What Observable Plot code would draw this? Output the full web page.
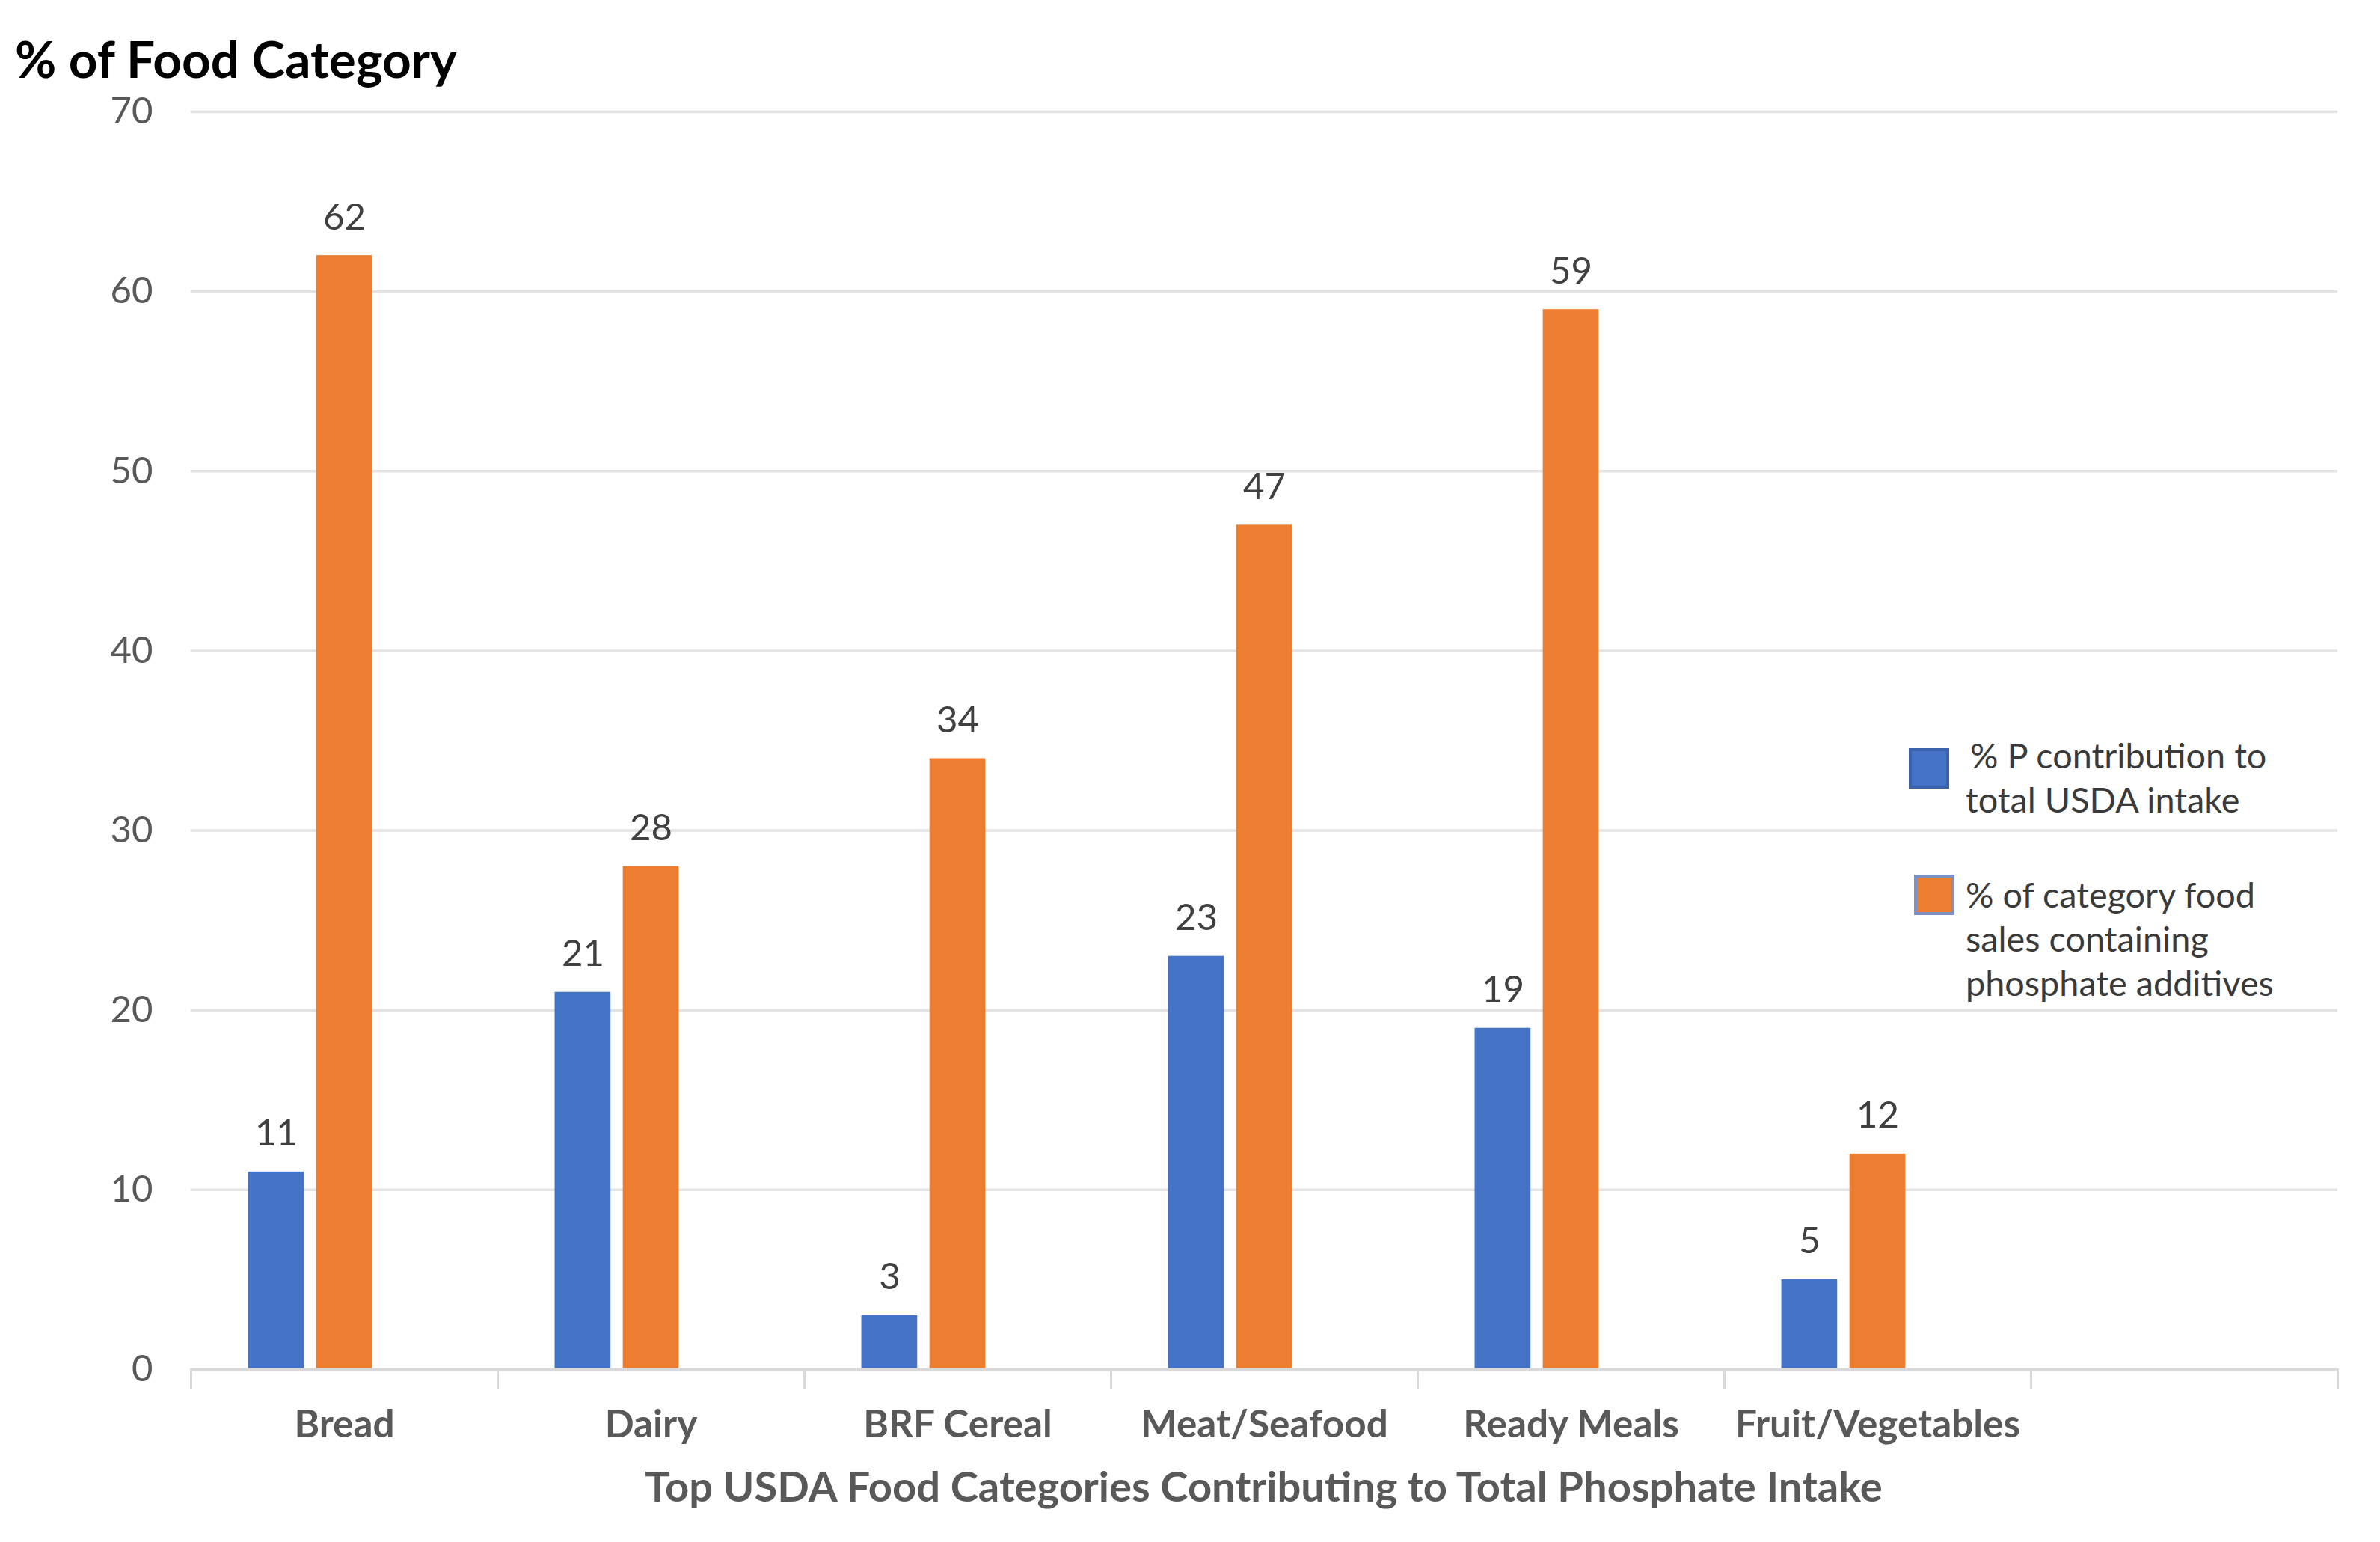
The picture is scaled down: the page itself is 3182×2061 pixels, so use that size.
<!DOCTYPE html>
<html>
<head>
<meta charset="utf-8">
<script src="https://cdn.jsdelivr.net/npm/d3@7"></script>
<script src="https://cdn.jsdelivr.net/npm/@observablehq/plot@0.6"></script>
<style>
  html, body { margin: 0; padding: 0; background: #fff; overflow: hidden; }
  #page { position: relative; width: 3182px; height: 2061px; font-family: Lato, "Open Sans", sans-serif; }
  #title { position: absolute; left: 20px; font-weight: 700; color: #000; white-space: nowrap; }
  #chart { position: absolute; left: 0; top: 120px; }
  #caption { position: absolute; text-align: center; font-weight: 700; color: #595959; white-space: nowrap; }
  .swatch { position: absolute; box-sizing: border-box; width: 54px; height: 54px; }
  .ltext { position: absolute; left: 2628px; width: 430px; color: #3a3a3a; font-weight: 400; }
</style>
</head>
<body>
<div id="page">
  <div id="title"></div>
  <div id="chart"></div>
  <div id="caption"></div>
  <div id="legend"></div>
</div>
<script>
// ---- data ----
const titleText = "% of Food Category";
const xAxisTitle = "Top USDA Food Categories Contributing to Total Phosphate Intake";
const categories = ["Bread", "Dairy", "BRF Cereal", "Meat/Seafood", "Ready Meals", "Fruit/Vegetables", ""];
const seriesNames = ["% P contribution to total USDA intake", "% of category food sales containing phosphate additives", ""];
const pContribution = [11, 21, 3, 23, 19, 5, null];
const additiveShare = [62, 28, 34, 47, 59, 12, null];
const yTicks = [0, 10, 20, 30, 40, 50, 60, 70];
const seriesColors = ["#4472C4", "#ED7D31"];

// ---- rows for Plot ----
const rows = [];
categories.forEach((c, i) => {
  rows.push({category: c, series: seriesNames[0], value: pContribution[i]});
  rows.push({category: c, series: seriesNames[1], value: additiveShare[i]});
});

// ---- font fitting helper ----
const ctx = document.createElement("canvas").getContext("2d");
function fit(text, weight, target) {
  ctx.font = `${weight} 100px Lato`;
  return 100 * target / ctx.measureText(text).width;
}
const fsTitle = fit(titleText, 700, 592);
const fsCaption = fit(xAxisTitle, 700, 1659);
const fsCat = fit("Fruit/Vegetables", 700, 381);
const fsNum = fit("70", 400, 57);
const fsLegend = fit("phosphate additives", 400, 412);

// ---- layout ----
const W = 3182, H = 1840;
const mTop = 29, mBottom = 130, mLeft = 253, mRight = 56;
const innerH = H - mTop - mBottom;

const plot = Plot.plot({
  width: W,
  height: H,
  marginTop: mTop,
  marginBottom: mBottom,
  marginLeft: mLeft,
  marginRight: mRight,
  style: {fontFamily: "Lato, sans-serif", background: "white", overflow: "visible"},
  fx: {domain: categories, padding: 0, label: null, axis: null},
  x: {domain: seriesNames, paddingInner: 0.18, paddingOuter: 0.84, round: false, axis: null},
  y: {domain: [0, 70], axis: null},
  color: {domain: seriesNames.slice(0, 2), range: seriesColors},
  marks: [
    Plot.ruleY(yTicks.filter(v => v > 0), {stroke: "#e3e3e3", strokeWidth: 3.5}),
    Plot.frame({anchor: "left", insetTop: innerH, insetBottom: -24, stroke: "#d9d9d9", strokeWidth: 3}),
    Plot.frame({anchor: "right", insetTop: innerH, insetBottom: -24, stroke: "#d9d9d9", strokeWidth: 3}),
    Plot.barY(rows, {fx: "category", x: "series", y: "value", fill: "series"}),
    Plot.ruleY([0], {stroke: "#d9d9d9", strokeWidth: 4}),
    Plot.text(rows, {
      fx: "category", x: "series", y: "value", text: d => d.value,
      lineAnchor: "bottom", dy: -35, fill: "#404040", fontSize: fsNum
    }),
    Plot.axisY({ticks: yTicks, tickSize: 0, tickPadding: 51, fontSize: fsNum, color: "#595959", fill: "#595959", label: null}),
    Plot.axisFx({anchor: "bottom", tickSize: 0, tickPadding: 90 - 0.71 * fsCat, fontSize: fsCat, fontWeight: "bold", color: "#595959", fill: "#595959", label: null})
  ]
});
document.getElementById("chart").appendChild(plot);

// ---- title & caption ----
const title = document.getElementById("title");
title.textContent = titleText;
title.style.fontSize = fsTitle + "px";
title.style.lineHeight = fsTitle + "px";
title.style.top = (104 - 0.887 * fsTitle) + "px";

const cap = document.getElementById("caption");
cap.textContent = xAxisTitle;
cap.style.left = mLeft + "px";
cap.style.width = (W - mLeft - mRight) + "px";
cap.style.fontSize = fsCaption + "px";
cap.style.lineHeight = fsCaption + "px";
cap.style.top = (2008 - 0.887 * fsCaption) + "px";

// ---- legend (inside plot area, right side) ----
const legend = document.getElementById("legend");
const lh = 59;
const baseOff = (lh - 1.2 * fsLegend) / 2 + 0.987 * fsLegend;
const items = [
  {name: seriesNames[0], color: seriesColors[0], border: "#3b63ad", sx: 2552, sy: 1000, firstBaseline: 1028, indent: 6},
  {name: seriesNames[1], color: seriesColors[1], border: "#7d90c4", sx: 2559, sy: 1169, firstBaseline: 1214, indent: 0}
];
items.forEach(it => {
  const sw = document.createElement("div");
  sw.className = "swatch";
  sw.style.left = it.sx + "px";
  sw.style.top = it.sy + "px";
  sw.style.background = it.color;
  sw.style.border = `4px solid ${it.border}`;
  legend.appendChild(sw);
  const t = document.createElement("div");
  t.className = "ltext";
  t.textContent = it.name;
  t.style.fontSize = fsLegend + "px";
  t.style.lineHeight = lh + "px";
  t.style.textIndent = it.indent + "px";
  t.style.top = (it.firstBaseline - baseOff) + "px";
  legend.appendChild(t);
});
</script>
</body>
</html>
